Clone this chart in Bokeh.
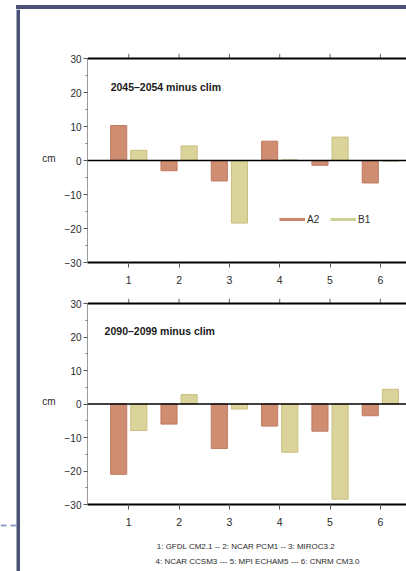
from bokeh.plotting import figure
from bokeh.models import Range1d, LinearAxis, FixedTicker, Label, Legend, LegendItem, Title, Span, Div
from bokeh.layouts import row, column
from bokeh.transform import dodge
from bokeh.embed import file_html
from bokeh.resources import INLINE

# ---------------- data ----------------
models = [1, 2, 3, 4, 5, 6]
tick_labels = ["1", "2", "3", "4", "5", "6"]
a2_2045 = [10.3, -3.0, -6.0, 5.7, -1.4, -6.6]
b1_2045 = [3.0, 4.3, -18.4, 0.2, 6.9, -0.2]
a2_2090 = [-21.0, -6.0, -13.3, -6.6, -8.1, -3.5]
b1_2090 = [-7.9, 2.8, -1.5, -14.4, -28.4, 4.4]
y_ticks = [-30, -20, -10, 0, 10, 20, 30]
y_minor = [-25, -15, -5, 5, 15, 25]
footer1 = "1: GFDL CM2.1 -- 2: NCAR PCM1  -- 3: MIROC3.2"
footer2 = "4: NCAR CCSM3 --- 5: MPI ECHAM5 --- 6: CNRM CM3.0"

A2_FILL, A2_EDGE = "#cf8d72", "#bf7a60"
B1_FILL, B1_EDGE = "#dad39a", "#c9bf7e"
FRAME = "#4b5278"
FONT = "Liberation Sans"
TXT = "#2a2a2a"
Y_TOP = 31.5   # a few pixels of room above the 30 line for the top ticks


def panel(title, a2, b1, height, b_top, b_bottom, legend=False, footer=False):
    p = figure(width=386, height=height, x_range=Range1d(0.18, 6.52), y_range=Range1d(-30, Y_TOP),
               output_backend="svg", toolbar_location=None,
               x_axis_location=None, y_axis_location=None,
               min_border_left=67, min_border_right=0, min_border_top=b_top, min_border_bottom=b_bottom)
    p.grid.visible = False
    p.outline_line_color = None
    p.background_fill_color = "white"
    p.border_fill_color = "white"

    src = dict(x=models, a2=a2, b1=b1)
    p.vbar(x=dodge("x", -0.2, range=p.x_range), top="a2", bottom=0, width=0.32, source=src,
           fill_color=A2_FILL, line_color=A2_EDGE, line_width=1)
    p.vbar(x=dodge("x", 0.2, range=p.x_range), top="b1", bottom=0, width=0.32, source=src,
           fill_color=B1_FILL, line_color=B1_EDGE, line_width=1)
    p.add_layout(Span(location=0, dimension="width", line_color="black", line_width=1.6))
    # top frame line with outward ticks
    p.add_layout(Span(location=30, dimension="width", line_color="black", line_width=2))
    p.segment(x0=models, y0=[30] * len(models), x1=models, y1=[Y_TOP] * len(models),
              line_color="#666666", line_width=1)

    # left axis
    ly = LinearAxis(ticker=FixedTicker(ticks=y_ticks, minor_ticks=y_minor), bounds=(-30, 30),
                    axis_label="cm",
                    axis_label_orientation="horizontal", axis_label_standoff=6,
                    axis_label_text_font=FONT, axis_label_text_font_size="10px",
                    axis_label_text_font_style="normal", axis_label_text_color=TXT,
                    major_label_text_font=FONT, major_label_text_font_size="10px",
                    major_label_text_color=TXT, major_label_standoff=2,
                    major_tick_out=4, major_tick_in=0, minor_tick_out=2, minor_tick_in=0,
                    axis_line_color="#9a9a9a", axis_line_width=1,
                    major_tick_line_color="#555555", minor_tick_line_color="#777777")
    p.add_layout(ly, "left")

    # bottom axis
    bx = LinearAxis(ticker=FixedTicker(ticks=models, minor_ticks=[]),
                    major_label_overrides={m: t for m, t in zip(models, tick_labels)},
                    major_label_text_font=FONT, major_label_text_font_size="10.5px",
                    major_label_text_color=TXT, major_label_standoff=8,
                    major_tick_out=5, major_tick_in=0,
                    axis_line_color="black", axis_line_width=2, major_tick_line_color="#555555")
    if footer:
        bx.axis_label = footer1
        bx.axis_label_standoff = 13
        bx.axis_label_text_font = FONT
        bx.axis_label_text_font_size = "8px"
        bx.axis_label_text_font_style = "normal"
        bx.axis_label_text_color = TXT
    p.add_layout(bx, "below")

    p.add_layout(Label(x=title[1], y=title[2], text=title[0], text_font=FONT, text_font_size="10.5px",
                       text_font_style="bold", text_color="#1a1a1a", text_baseline="middle"))

    if legend:
        l1 = p.line(x=models, y=a2, line_color="#c9876b", line_width=3, visible=False)
        l2 = p.line(x=models, y=b1, line_color="#cdd096", line_width=3, visible=False)
        lg = Legend(items=[LegendItem(label="A2", renderers=[l1]), LegendItem(label="B1", renderers=[l2])],
                    orientation="horizontal", location=(192, 37), padding=0, margin=0, spacing=3,
                    glyph_width=26, glyph_height=12, label_height=12, label_standoff=2,
                    label_text_font=FONT, label_text_font_size="10px", label_text_color=TXT,
                    border_line_color=None, background_fill_alpha=0, inactive_fill_alpha=0)
        p.add_layout(lg, "center")

    if footer:
        p.add_layout(Title(text=footer2, align="left", offset=68, text_font=FONT, text_font_size="8px",
                           text_font_style="normal", text_color=TXT, standoff=2), "below")
    return p


p1 = panel(("2045\u20132054 minus clim", 0.64, 21.5), a2_2045, b1_2045, 281, 44, 28, legend=True)
p2 = panel(("2090\u20132099 minus clim", 0.52, 21.7), a2_2090, b1_2090, 281, 8, 67, footer=True)

# slide frame decorations
header = Div(text="", width=390, height=4, margin=(5, 0, 0, 16),
             styles={"background-color": FRAME})

strip = figure(width=20, height=562, x_range=Range1d(0, 20), y_range=Range1d(562, 0),
               output_backend="svg", toolbar_location=None, x_axis_location=None, y_axis_location=None,
               min_border=0)
strip.grid.visible = False
strip.outline_line_color = None
strip.segment(x0=[0], y0=[516], x1=[20], y1=[516], line_color="#8fa0c6", line_width=2, line_dash="6 4")
strip.quad(left=[16], right=[20], top=[0], bottom=[562], fill_color=FRAME, line_color=None)

layout = column(header, row(strip, column(p1, p2)))

open("out.html", "w").write(file_html(layout, INLINE))
